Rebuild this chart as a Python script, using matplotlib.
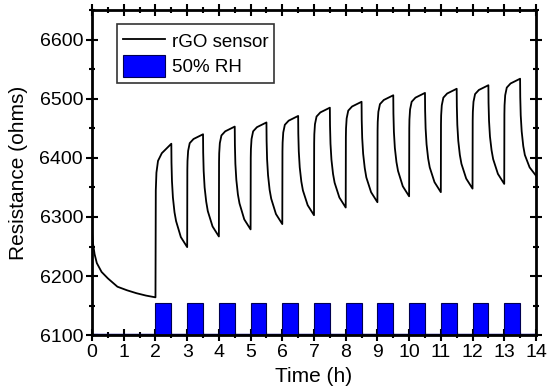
import numpy as np
import matplotlib.pyplot as plt
from matplotlib.ticker import MultipleLocator

plt.rcParams['font.family'] = ['Liberation Sans', 'DejaVu Sans']

# initial baseline drift before humidity is switched on
t_start = [0.0, 0.03, 0.08, 0.15, 0.3, 0.5, 0.8, 1.1, 1.4, 1.7, 2.0]
r_start = [6272, 6255, 6237, 6222, 6207, 6196, 6182, 6176, 6171, 6167, 6164]

# sample times inside one humidity cycle (hours after the pulse starts)
cycle_offsets = [0.005, 0.01, 0.03, 0.08, 0.2, 0.35, 0.5,
                 0.505, 0.52, 0.55, 0.6, 0.65, 0.8, 1.0]
cycle_starts = [2, 3, 4, 5, 6, 7, 8, 9, 10, 11, 12, 13]

# resistance (ohms)
r_cycles = [
    [6300, 6345, 6375, 6395, 6408, 6416, 6424, 6392, 6361, 6333, 6308, 6293, 6266, 6249],
    [6380, 6395, 6412, 6425, 6432, 6436, 6440, 6409, 6378, 6350, 6326, 6310, 6284, 6267],
    [6393, 6408, 6425, 6438, 6445, 6449, 6453, 6422, 6390, 6363, 6338, 6323, 6296, 6279],
    [6400, 6415, 6432, 6445, 6452, 6456, 6460, 6429, 6398, 6371, 6346, 6331, 6305, 6288],
    [6411, 6426, 6443, 6456, 6463, 6467, 6471, 6441, 6411, 6384, 6360, 6345, 6320, 6303],
    [6425, 6440, 6457, 6470, 6477, 6481, 6485, 6455, 6424, 6397, 6373, 6358, 6333, 6316],
    [6435, 6450, 6467, 6480, 6487, 6491, 6495, 6464, 6434, 6407, 6383, 6367, 6342, 6325],
    [6446, 6461, 6478, 6491, 6498, 6502, 6506, 6475, 6444, 6417, 6393, 6378, 6352, 6335],
    [6450, 6465, 6482, 6495, 6502, 6506, 6510, 6480, 6450, 6423, 6399, 6384, 6359, 6342],
    [6457, 6472, 6489, 6502, 6509, 6513, 6517, 6487, 6456, 6429, 6405, 6390, 6365, 6348],
    [6463, 6478, 6495, 6508, 6515, 6519, 6523, 6493, 6463, 6436, 6413, 6398, 6373, 6356],
    [6474, 6489, 6506, 6519, 6526, 6530, 6534, 6503, 6472, 6445, 6420, 6405, 6384, 6370],
]

# humidity pulses: on for half an hour every hour
rh_on = cycle_starts
rh_width = 0.5
rh_level = 55  # bar height above the 6100 baseline, in ohm-axis units

t = list(t_start)
r = list(r_start)
for start, vals in zip(cycle_starts, r_cycles):
    t += [start + o for o in cycle_offsets]
    r += vals
t = np.array(t)
r = np.array(r)

fig = plt.figure(figsize=(5.48, 3.92), dpi=100)
ax = fig.add_axes([0.168, 0.145, 0.81, 0.829])

ax.axhline(6100, color='#00008b', linewidth=2.5, zorder=2)
ax.bar(rh_on, rh_level, width=rh_width, bottom=6100, align='edge',
       color='#0000ff', edgecolor='#000050', linewidth=0.8, label='50% RH', zorder=2)
ax.plot(t, r, color='black', linewidth=1.3, label='rGO sensor', zorder=3)

ax.set_xlim(0, 14)
ax.set_ylim(6100, 6650)
ax.xaxis.set_major_locator(MultipleLocator(1))
ax.xaxis.set_minor_locator(MultipleLocator(0.5))
ax.yaxis.set_major_locator(MultipleLocator(100))
ax.yaxis.set_minor_locator(MultipleLocator(50))
ax.tick_params(which='both', direction='inout', top=True, right=True,
               labeltop=False, labelright=False, width=1.5, labelsize=14)
ax.tick_params(which='major', length=9, pad=2)
ax.tick_params(which='minor', length=5)
for s in ax.spines.values():
    s.set_linewidth(2)

ax.set_xlabel('Time (h)', fontsize=15, labelpad=4)
ax.set_ylabel('Resistance (ohms)', fontsize=15, labelpad=8)

leg = ax.legend(loc='upper left', bbox_to_anchor=(0.056, 0.957), borderaxespad=0,
                fontsize=13.5, frameon=True, fancybox=False, edgecolor='black',
                handlelength=2.25, handleheight=1.5, borderpad=0.3,
                labelspacing=0.1, handletextpad=0.37)
leg.get_frame().set_linewidth(1.2)

fig.savefig('out.png', dpi=100)
